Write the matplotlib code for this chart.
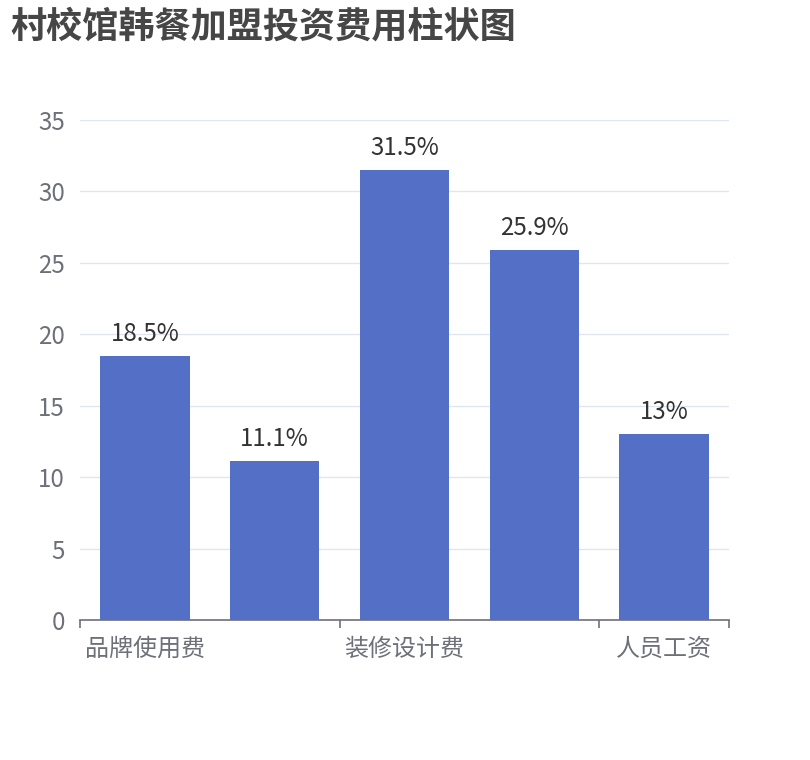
import matplotlib
matplotlib.use('Agg')
import matplotlib.pyplot as plt
from matplotlib.ticker import FixedLocator, NullFormatter

plt.rcParams['font.family'] = ['Noto Sans CJK SC', 'DejaVu Sans']

# Data.
categories = ['品牌使用费', '首期加盟费', '装修设计费', '设备采购费', '人员工资']
values     = [18.5, 11.1, 31.5, 25.9, 13]
labels     = ['18.5%', '11.1%', '31.5%', '25.9%', '13%']
y_ticks    = [0, 5, 10, 15, 20, 25, 30, 35]
shown_idx  = [0, 2, 4]

BAR   = '#5470C6'
AXIS  = '#6E7079'
GRID  = '#E0E6F1'
FS    = 17.3

fig = plt.figure(figsize=(8.1, 7.6), dpi=100)
ax  = fig.add_axes([80/810, 140/760, 649/810, 500/760])

x = list(range(len(categories)))
bars = ax.bar(x, values, width=0.69, color=BAR, zorder=3)

for b, lab in zip(bars, labels):
    ax.annotate(lab, (b.get_x() + b.get_width() / 2, b.get_height()),
                xytext=(0, 6.5), textcoords='offset points',
                ha='center', va='bottom', fontsize=FS, color='#333333')

ax.set_xlim(-0.5, len(categories) - 0.5)
ax.set_ylim(0, 35)

# y axis: grid lines, no tick marks
ax.set_yticks(y_ticks)
ax.set_yticklabels([str(v) for v in y_ticks])
ax.tick_params(axis='y', length=0, pad=11, labelsize=FS, labelcolor=AXIS)
ax.yaxis.grid(True, color=GRID, linewidth=1, zorder=0)

# x axis: boundary ticks, only every other label shown
ax.xaxis.set_major_locator(FixedLocator([-0.5, 1.5, 3.5, 4.5]))
ax.xaxis.set_major_formatter(NullFormatter())
ax.tick_params(axis='x', which='major', length=6, width=1.2, color=AXIS)
for i in shown_idx:
    ax.text(i, -0.031, categories[i], transform=ax.get_xaxis_transform(),
            ha='center', va='top', fontsize=FS, color=AXIS)

for side in ['top', 'right', 'left']:
    ax.spines[side].set_visible(False)
ax.spines['bottom'].set_color(AXIS)
ax.spines['bottom'].set_linewidth(1.2)
ax.spines['bottom'].set_zorder(4)

fig.text(10/810, 1 - 27/760, '村校馆韩餐加盟投资费用柱状图',
         fontsize=26, fontweight='bold', color='#464646',
         ha='left', va='center')

fig.savefig('out.png', dpi=100)
